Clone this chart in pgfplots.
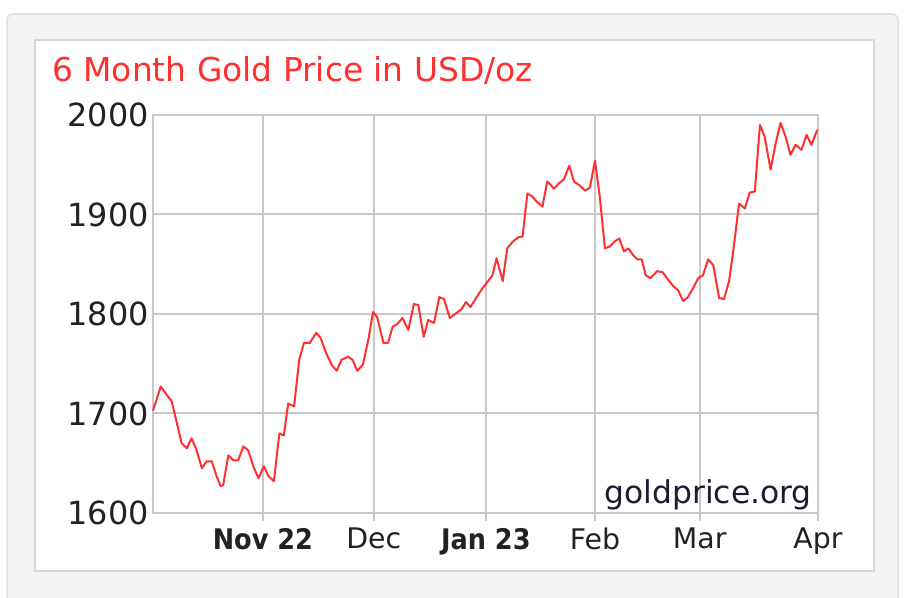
\documentclass[border=0pt]{standalone}
\usepackage{pgfplots}
\pgfplotsset{compat=1.18}
\usepackage{pgfplotstable}
\usepackage{fontspec}
\setmainfont{DejaVu Sans Condensed}
\newfontfamily\wide{DejaVu Sans}
\definecolor{gpred}{HTML}{FF3030}
\definecolor{gridc}{HTML}{C8C8C8}
\definecolor{outerbg}{HTML}{F3F3F3}
\definecolor{outerbd}{HTML}{E0E0E0}
\definecolor{innerbd}{HTML}{D8D8D8}
\definecolor{wm}{HTML}{1C1C34}
\definecolor{lbl}{HTML}{222222}
\pgfplotstableread{
d p
0.0 1703
2.1 1727
5.1 1712
7.8 1670
9.2 1665
10.5 1675
11.7 1665
13.3 1645
14.6 1652
16.0 1652
17.3 1637
18.4 1627
19.1 1628
20.5 1658
21.9 1653
23.2 1653
24.6 1667
25.9 1663
27.3 1647
28.7 1635
30.2 1647
31.4 1637
32.9 1632
34.4 1680
35.6 1678
36.8 1710
38.4 1707
39.8 1754
41.1 1771
42.7 1771
44.4 1781
45.6 1776
47.1 1761
48.6 1749
50.0 1743
51.3 1754
53.1 1757
54.3 1754
55.6 1743
57.1 1749
58.6 1774
59.9 1802
61.0 1797
62.7 1771
64.0 1771
65.2 1787
66.5 1790
67.9 1796
69.5 1784
71.0 1810
72.2 1809
73.7 1777
74.9 1794
76.5 1791
77.9 1817
79.2 1815
80.8 1796
82.6 1801
84.0 1805
85.2 1812
86.4 1807
88.1 1817
89.7 1826
91.2 1833
92.4 1839
93.5 1856
95.2 1833
96.4 1866
98.0 1873
99.4 1877
100.6 1878
101.9 1921
103.3 1918
104.4 1913
106.0 1908
107.3 1933
108.2 1930
109.1 1926
110.7 1932
111.8 1935
113.3 1949
114.6 1933
116.2 1929
117.6 1924
118.9 1927
120.3 1954
121.6 1918
123.0 1866
124.4 1868
125.7 1873
126.9 1876
128.2 1863
129.4 1866
130.7 1859
131.8 1855
133.0 1855
134.1 1839
135.4 1836
137.2 1843
138.7 1842
139.9 1836
141.6 1828
142.9 1824
144.3 1813
145.6 1817
147.0 1826
148.4 1836
149.7 1839
151.1 1855
152.5 1849
154.1 1816
155.4 1815
156.8 1833
158.1 1868
159.5 1911
161.1 1906
162.4 1922
163.8 1923
165.2 1990
166.5 1978
168.1 1945
169.5 1972
170.8 1992
172.2 1978
173.5 1960
174.9 1970
176.5 1965
177.9 1980
179.2 1970
180.8 1985
}\gold
\begin{document}
\begin{tikzpicture}
\useasboundingbox (0bp,0bp) rectangle (906bp,598bp);
\fill[white] (0bp,0bp) rectangle (906bp,598bp);
\draw[fill=outerbg, draw=outerbd, line width=1.5bp, rounded corners=6bp] (7bp,-20bp) rectangle (898bp,584bp);
\draw[fill=white, draw=innerbd, line width=1.5bp] (35bp,27bp) rectangle (874bp,558bp);
\node[anchor=west, inner sep=0pt, text=gpred, font=\wide\fontsize{33}{38}\selectfont] at (52bp,527bp) {6 Month Gold Price in USD/oz};
\begin{axis}[
  at={(153bp,85bp)}, anchor=south west,
  scale only axis, width=665bp, height=398bp,
  xmin=0, xmax=181, ymin=1600, ymax=2000,
  xtick={29.9,60.1,90.6,120.3,148.8,181},
  xticklabels={{\rmfamily\bfseries Nov 22},Dec,{\rmfamily\bfseries Jan 23},Feb,Mar,Apr},
  ytick={1600,1700,1800,1900,2000},
  yticklabels={1600,1700,1800,1900,2000},
  grid=major,
  grid style={gridc, line width=2bp},
  axis line style={gridc, line width=2bp},
  xtick pos=bottom, ytick pos=left,
  tick align=outside,
  major tick length=8bp,
  xtick style={gridc, line width=2bp},
  ytick style={draw=none},
  xticklabel style={font=\wide\fontsize{28.5}{34}\selectfont, text=lbl, inner sep=0pt, anchor=north, yshift=-7bp},
  yticklabel style={font=\wide\fontsize{32}{36}\selectfont, text=lbl, inner sep=0pt, anchor=east, xshift=4bp},
  clip=false,
]
\addplot[gpred, line width=2bp, line join=round] table[x=d, y=p] {\gold};
\node[anchor=base east, inner sep=0pt, text=wm, font=\wide\fontsize{31.5}{36}\selectfont] at (rel axis cs:0.991,0.025) {goldprice.org};
\end{axis}
\end{tikzpicture}
\end{document}
